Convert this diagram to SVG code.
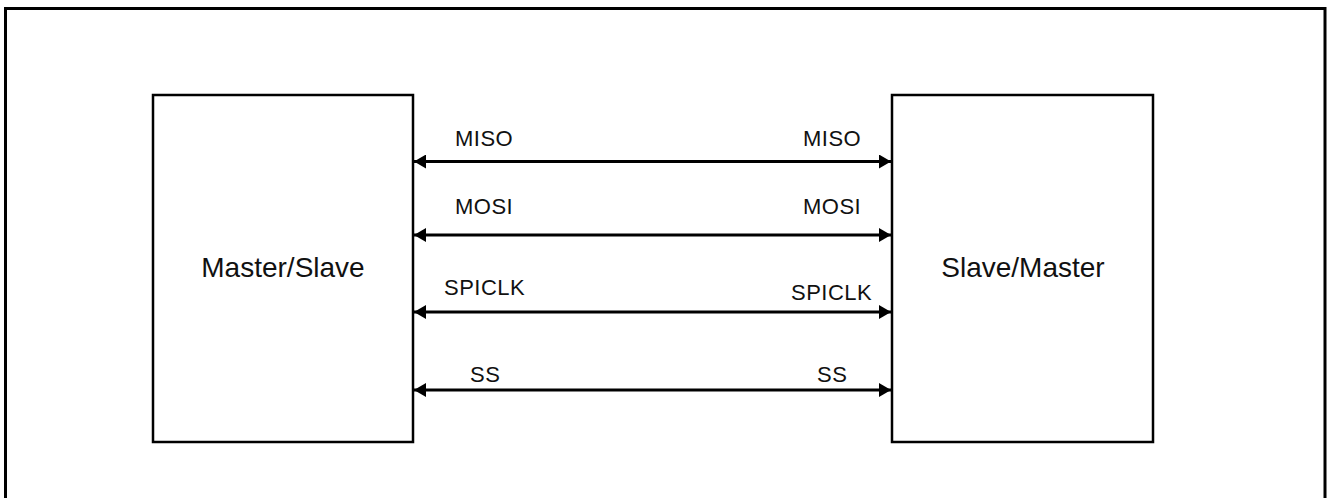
<svg xmlns="http://www.w3.org/2000/svg" width="1330" height="498" viewBox="0 0 1330 498">
<style>
.frame{fill:none;stroke:#000;stroke-width:3}
.box{fill:#fff;stroke:#000;stroke-width:2.5}
.wire{stroke:#000;stroke-width:3;fill:none}
.big{font-family:"Liberation Sans",Arial,sans-serif;font-size:28px;fill:#111}
.sig{font-family:"Liberation Sans",Arial,sans-serif;font-size:22px;fill:#111;letter-spacing:0.5px}
</style>
<defs>
<marker id="ah" viewBox="0 0 12 14" refX="12" refY="7" markerWidth="12" markerHeight="14" markerUnits="userSpaceOnUse" orient="auto-start-reverse">
<path d="M0,0 L12,7 L0,14 Z" fill="#000"/>
</marker>
</defs>
<rect width="1330" height="498" fill="#fff"/>
<rect class="frame" x="5.5" y="8.5" width="1319.5" height="510"/>
<g id="master">
<rect class="box" x="153" y="95" width="260" height="347"/>
<text class="big" x="283" y="277" text-anchor="middle">Master/Slave</text>
</g>
<g id="slave">
<rect class="box" x="892" y="95" width="261" height="347"/>
<text class="big" x="1023" y="277" text-anchor="middle">Slave/Master</text>
</g>
<g id="connectors">
<line class="wire" x1="414" y1="161.5" x2="891" y2="161.5" marker-start="url(#ah)" marker-end="url(#ah)"/>
<line class="wire" x1="414" y1="235" x2="891" y2="235" marker-start="url(#ah)" marker-end="url(#ah)"/>
<line class="wire" x1="414" y1="312" x2="891" y2="312" marker-start="url(#ah)" marker-end="url(#ah)"/>
<line class="wire" x1="414" y1="390" x2="891" y2="390" marker-start="url(#ah)" marker-end="url(#ah)"/>
</g>
<g id="labels">
<text class="sig" x="455" y="146">MISO</text>
<text class="sig" x="803" y="146">MISO</text>
<text class="sig" x="455" y="214">MOSI</text>
<text class="sig" x="803" y="214">MOSI</text>
<text class="sig" x="444" y="295">SPICLK</text>
<text class="sig" x="791" y="300">SPICLK</text>
<text class="sig" x="470" y="382">SS</text>
<text class="sig" x="817" y="382">SS</text>
</g>
</svg>
